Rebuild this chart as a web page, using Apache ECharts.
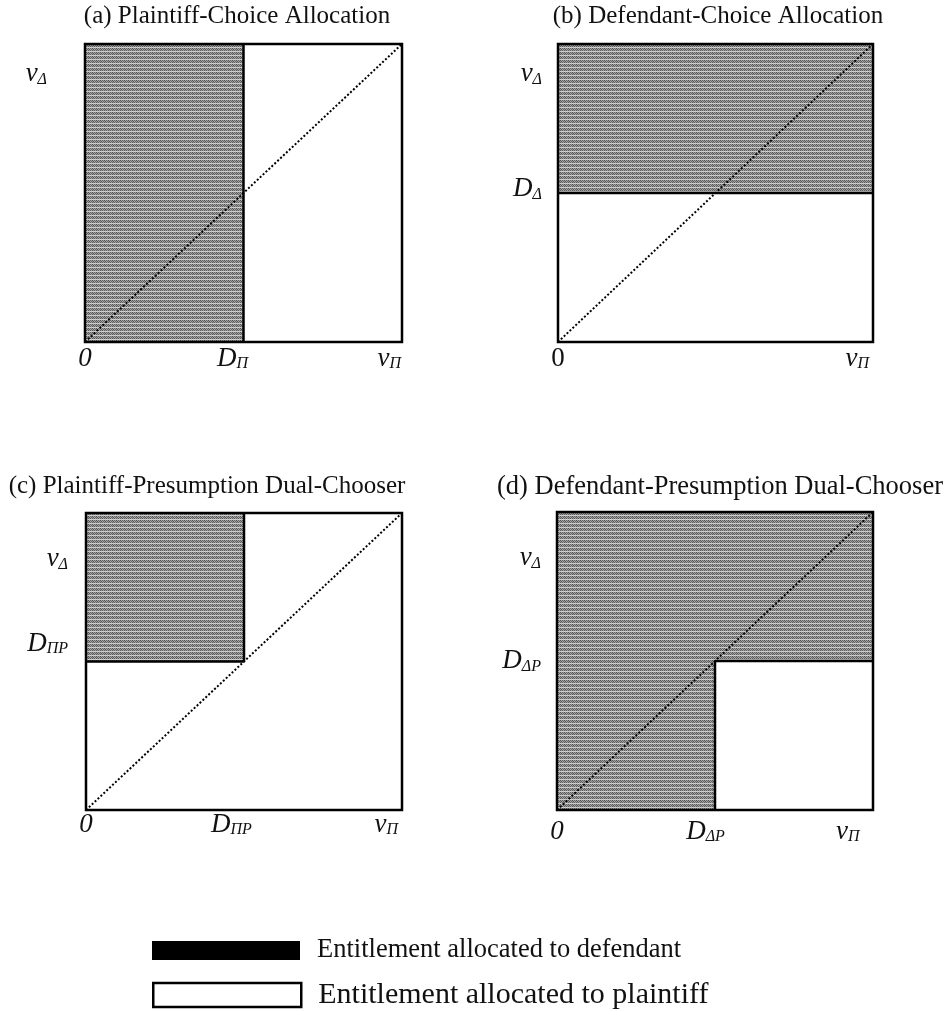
<!DOCTYPE html>
<html>
<head>
<meta charset="utf-8">
<script src="https://cdn.jsdelivr.net/npm/echarts@6/dist/echarts.min.js"></script>
<style>
html,body{margin:0;padding:0;background:#fff;}
#chart{width:952px;height:1011px;}
</style>
</head>
<body>
<div id="chart"></div>
<script>
// ---------- data ----------
const panelTitles = [
  '(a) Plaintiff-Choice Allocation',
  '(b) Defendant-Choice Allocation',
  '(c) Plaintiff-Presumption Dual-Chooser',
  '(d) Defendant-Presumption Dual-Chooser'
];
// regions as [x0, y0, x1, y1] in unit axes (v_Π on x, v_Δ on y)
const defendantRegions = [
  [[0, 0, 0.5, 1]],
  [[0, 0.5, 1, 1]],
  [[0, 0.5, 0.5, 1]],
  [[0, 0.5, 1, 1], [0, 0, 0.5, 0.5]]
];
const plaintiffRegions = [
  [[0.5, 0, 1, 1]],
  [[0, 0, 1, 0.5]],
  [[0, 0, 1, 0.5], [0.5, 0.5, 1, 1]],
  [[0.5, 0, 1, 0.5]]
];
const boundaries = [
  [[0.5, 0], [0.5, 1]],
  [[0, 0.5], [1, 0.5]],
  [[0, 0.5], [0.5, 0.5], [0.5, 1]],
  [[0.5, 0], [0.5, 0.5], [1, 0.5]]
];
const diagonal = [[0, 0], [1, 1]];
const frameBox = [[0, 0, 1, 1]];
const xTickValues = [[0, 0.465, 0.96], [0, 0.95], [0, 0.46, 0.95], [0, 0.47, 0.92]];
const xTickLabels = [
  ['{i|0}', '{i|D}{s|Π}', '{i|v}{s|Π}'],
  ['{u|0}', '{i|v}{s|Π}'],
  ['{i|0}', '{i|D}{s|ΠP}', '{i|v}{s|Π}'],
  ['{i|0}', '{i|D}{s|ΔP}', '{i|v}{s|Π}']
];
const yTickValues = [[0.9], [0.9, 0.513], [0.845, 0.56], [0.846, 0.5]];
const yTickLabels = [
  ['{i|v}{s|Δ}'],
  ['{i|v}{s|Δ}', '{i|D}{s|Δ}'],
  ['{i|v}{s|Δ}', '{i|D}{s|ΠP}'],
  ['{i|v}{s|Δ}', '{i|D}{s|ΔP}']
];
const legendNames = ['Entitlement allocated to defendant', 'Entitlement allocated to plaintiff'];

// ---------- layout / style ----------
const grids = [
  {left: 85, top: 44, width: 317, height: 298},
  {left: 558, top: 44, width: 315, height: 298},
  {left: 86, top: 513, width: 316, height: 297},
  {left: 557, top: 512, width: 316, height: 298}
];
const titlePos = [[237, 4], [718, 4], [207, 474], [720, 474]];
const titleSizes = [25, 25, 25, 26.5];
const xMargins = [3, 3, 1, 8];
const yMargins = [38, 16, 18, 16];
const serif = '"Liberation Serif", "Times New Roman", serif';

// grey dithered fill pattern
const pat = document.createElement('canvas');
pat.width = 4; pat.height = 4;
(function () {
  const c = pat.getContext('2d');
  const rows = [
    ['#525252', '#a8a8a8', '#626262', '#a0a0a0'],
    ['#989898', '#585858', '#acacac', '#666666'],
    ['#5c5c5c', '#9c9c9c', '#565656', '#a8a8a8'],
    ['#d4d4d4', '#c0c0c0', '#d8d8d8', '#c4c4c4']
  ];
  for (let y = 0; y < 4; y++) for (let x = 0; x < 4; x++) {
    c.fillStyle = rows[y][x]; c.fillRect(x, y, 1, 1);
  }
})();
const greyFill = {image: pat, repeat: 'repeat'};

const labelRich = {
  i: {fontFamily: serif, fontStyle: 'italic', fontSize: 27, color: '#111', verticalAlign: 'bottom'},
  u: {fontFamily: serif, fontSize: 27, color: '#111', verticalAlign: 'bottom'},
  s: {fontFamily: serif, fontStyle: 'italic', fontSize: 16, color: '#111', verticalAlign: 'bottom'}
};

function rectRenderer(fill, stroke, lw) {
  return function (params, api) {
    const p0 = api.coord([api.value(0), api.value(1)]);
    const p1 = api.coord([api.value(2), api.value(3)]);
    return {
      type: 'rect',
      shape: {x: p0[0], y: p1[1], width: p1[0] - p0[0], height: p0[1] - p1[1]},
      style: {fill: fill, stroke: stroke, lineWidth: lw}
    };
  };
}

const option = {
  animation: false,
  backgroundColor: '#fff',
  title: panelTitles.map((t, i) => ({
    text: t, left: titlePos[i][0], top: titlePos[i][1], textAlign: 'center', padding: 0,
    textStyle: {fontFamily: serif, fontWeight: 'normal', fontSize: titleSizes[i], color: '#111'}
  })),
  legend: [
    {
      left: 152, top: 937, padding: 0, itemWidth: 148, itemHeight: 19, selectedMode: false,
      data: [{name: legendNames[0], icon: 'rect', itemStyle: {color: '#000', borderWidth: 0},
        textStyle: {fontFamily: serif, fontSize: 26.5, color: '#111', padding: [0, 0, 0, 12]}}]
    },
    {
      left: 152, top: 980, padding: 0, itemWidth: 148, itemHeight: 24, selectedMode: false,
      data: [{name: legendNames[1], icon: 'rect', itemStyle: {color: '#fff', borderColor: '#000', borderWidth: 2.5},
        textStyle: {fontFamily: serif, fontSize: 30, color: '#111', padding: [0, 0, 0, 12]}}]
    }
  ],
  grid: grids.map(g => Object.assign({show: false}, g)),
  xAxis: grids.map((g, i) => ({
    type: 'value', gridIndex: i, min: 0, max: 1,
    axisLine: {show: false}, axisTick: {show: false}, splitLine: {show: false},
    axisLabel: {
      show: true, customValues: xTickValues[i], margin: xMargins[i], rich: labelRich,
      formatter: v => { const k = xTickValues[i].findIndex(t => Math.abs(t - v) < 1e-6); return k >= 0 ? xTickLabels[i][k] : ''; }
    }
  })),
  yAxis: grids.map((g, i) => ({
    type: 'value', gridIndex: i, min: 0, max: 1,
    axisLine: {show: false}, axisTick: {show: false}, splitLine: {show: false},
    axisLabel: {
      show: true, customValues: yTickValues[i], margin: yMargins[i], rich: labelRich,
      formatter: v => { const k = yTickValues[i].findIndex(t => Math.abs(t - v) < 1e-6); return k >= 0 ? yTickLabels[i][k] : ''; }
    }
  })),
  series: []
};

for (let i = 0; i < 4; i++) {
  option.series.push({
    name: legendNames[1], type: 'custom', xAxisIndex: i, yAxisIndex: i, z: 1, silent: true,
    encode: {x: [0, 2], y: [1, 3]}, data: plaintiffRegions[i],
    itemStyle: {color: '#fff'},
    renderItem: rectRenderer('#fff', null, 0)
  });
  option.series.push({
    name: legendNames[0], type: 'custom', xAxisIndex: i, yAxisIndex: i, z: 2, silent: true,
    encode: {x: [0, 2], y: [1, 3]}, data: defendantRegions[i],
    itemStyle: {color: '#000'},
    renderItem: rectRenderer(greyFill, null, 0)
  });
  option.series.push({
    type: 'line', xAxisIndex: i, yAxisIndex: i, z: 3, silent: true, symbol: 'none',
    data: diagonal, lineStyle: {color: '#000', width: 2, type: [2, 2]}
  });
  option.series.push({
    type: 'line', xAxisIndex: i, yAxisIndex: i, z: 4, silent: true, symbol: 'none',
    data: boundaries[i], lineStyle: {color: '#000', width: 2.5}
  });
  option.series.push({
    type: 'custom', xAxisIndex: i, yAxisIndex: i, z: 5, silent: true,
    encode: {x: [0, 2], y: [1, 3]}, data: frameBox,
    renderItem: rectRenderer('none', '#000', 2.5)
  });
}

const chart = echarts.init(document.getElementById('chart'), null, {renderer: 'canvas'});
chart.setOption(option);
</script>
</body>
</html>
